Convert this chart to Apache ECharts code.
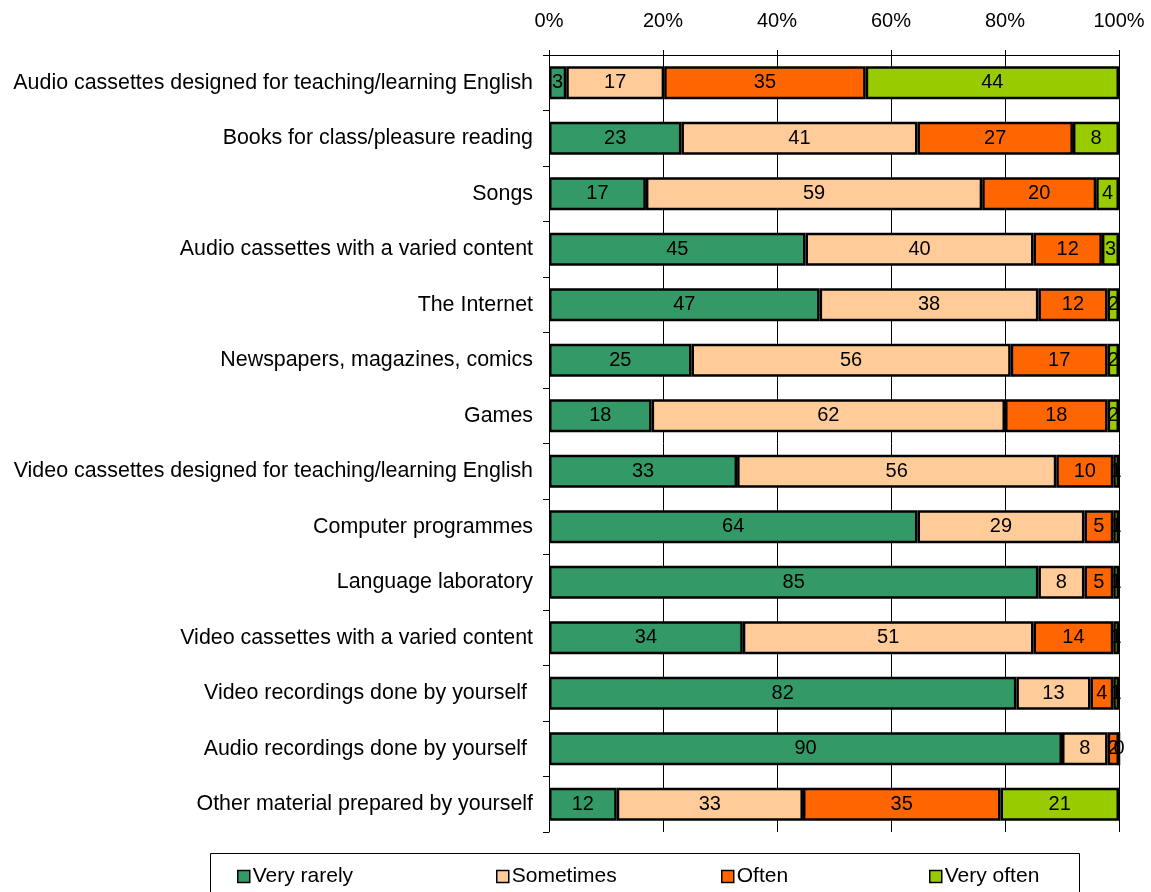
<!DOCTYPE html>
<html>
<head>
<meta charset="utf-8">
<script src="https://cdn.jsdelivr.net/npm/echarts@6/dist/echarts.min.js"></script>
<style>html,body{margin:0;padding:0;background:#fff}#c{width:1151px;height:892px}</style>
</head>
<body>
<div id="c"></div>
<script>
var categories = [
  "Audio cassettes designed for teaching/learning English",
  "Books for class/pleasure reading",
  "Songs",
  "Audio cassettes with a varied content",
  "The Internet",
  "Newspapers, magazines, comics",
  "Games",
  "Video cassettes designed for teaching/learning English",
  "Computer programmes",
  "Language laboratory",
  "Video cassettes with a varied content",
  "Video recordings done by yourself ",
  "Audio recordings done by yourself ",
  "Other material prepared by yourself"
];
var veryRarely = [3, 23, 17, 45, 47, 25, 18, 33, 64, 85, 34, 82, 90, 12];
var sometimes  = [17, 41, 59, 40, 38, 56, 62, 56, 29, 8, 51, 13, 8, 33];
var often      = [35, 27, 20, 12, 12, 17, 18, 10, 5, 5, 14, 4, 2, 35];
var veryOften  = [44, 8, 4, 3, 2, 2, 2, 1, 1, 1, 1, 1, 0, 21];
var tickLabels = ["0%", "20%", "40%", "60%", "80%", "100%"];

var seriesNames = ["Very rarely", "Sometimes", "Often", "Very often"];
var seriesData = [veryRarely, sometimes, often, veryOften];
var colors = ["#339966", "#FFCC99", "#FF6600", "#99CC00"];

var totals = categories.map(function (_, i) {
  return seriesData.reduce(function (s, arr) { return s + arr[i]; }, 0);
});

var font = "Liberation Sans, Arial, sans-serif";

var series = seriesData.map(function (arr, k) {
  return {
    name: seriesNames[k],
    type: "bar",
    stack: "all",
    barWidth: 33,
    data: arr.map(function (v, i) { return { value: v / totals[i] * 100, raw: v }; }),
    itemStyle: { color: colors[k], borderColor: "#000", borderWidth: 2.5 },
    label: {
      show: true,
      position: "inside",
      color: "#000",
      fontFamily: font,
      fontSize: 20,
      formatter: function (p) { return String(p.data.raw); }
    },
    emphasis: { disabled: true }
  };
});

var legends = seriesNames.map(function (n, k) {
  var lefts = [237, 496, 721, 929];
  return {
    data: [n],
    left: lefts[k],
    top: 866,
    icon: "rect",
    itemWidth: 12,
    itemHeight: 12,
    itemGap: 4,
    padding: 0,
    selectedMode: false,
    itemStyle: { borderColor: "#000", borderWidth: 1.5 },
    textStyle: { fontFamily: font, fontSize: 21, color: "#000", padding: [0, 0, 0, -2] }
  };
});

var chart = echarts.init(document.getElementById("c"), null, { renderer: "canvas" });
chart.setOption({
  animation: false,
  backgroundColor: "#fff",
  grid: { left: 549, right: 32, top: 55, bottom: 60, containLabel: false },
  xAxis: {
    type: "value",
    position: "top",
    min: 0,
    max: 100,
    interval: 20,
    axisLine: { show: true, lineStyle: { color: "#000", width: 1 } },
    axisTick: { show: true, length: 5, inside: false, lineStyle: { color: "#000" } },
    axisLabel: {
      color: "#000", fontFamily: font, fontSize: 20, margin: 24,
      formatter: function (v) { return tickLabels[Math.round(v / 20)]; }
    },
    splitLine: { show: true, lineStyle: { color: "#000", width: 1 } }
  },
  yAxis: {
    type: "category",
    inverse: true,
    data: categories,
    axisLine: { show: true, lineStyle: { color: "#000", width: 1 } },
    axisTick: { show: true, length: 6, lineStyle: { color: "#000" } },
    axisLabel: { color: "#000", fontFamily: font, fontSize: 21.4, margin: 16 }
  },
  legend: legends,
  graphic: [{
    type: "rect",
    shape: { x: 210.5, y: 853.5, width: 869, height: 50 },
    style: { fill: "none", stroke: "#000", lineWidth: 1 },
    z: 0
  }],
  series: series
});
</script>
</body>
</html>
